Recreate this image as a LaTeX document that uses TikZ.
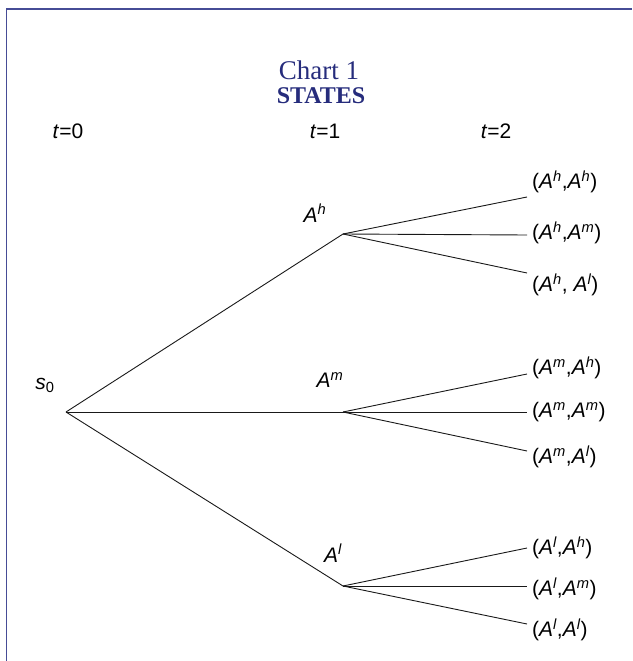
\documentclass[tikz,border=0pt]{standalone}
\usepackage{fontspec}
\setmainfont{Liberation Serif}
\newfontfamily\labfont{Liberation Sans}
\definecolor{navy}{RGB}{38,44,124}
\definecolor{framecol}{RGB}{70,76,150}
\newcommand{\Sp}[1]{\textsuperscript{\itshape #1}}
\tikzset{
  lab/.style={font=\labfont\fontsize{21}{25}\selectfont, inner sep=1pt},
  leaf/.style={lab, anchor=west},
  edge/.style={line width=0.9pt, black!90},
  ttl/.style={text=navy, inner sep=0pt, anchor=base}
}
\begin{document}
\begin{tikzpicture}[x=1pt,y=-1pt]
\useasboundingbox (0,0) rectangle (632,661);
\draw[framecol, line width=1.5pt] (6.5,661) -- (6.5,9) -- (632,9);
\node[ttl, font=\fontsize{27}{30}\selectfont] (title) at (319,79) {Chart 1};
\node[ttl, font=\fontsize{24}{28}\selectfont\bfseries] (sub) at (321,103) {STATES};
\node[lab] (t0) at (68,131) {\textit{t}=0};
\node[lab] (t1) at (325,131) {\textit{t}=1};
\node[lab] (t2) at (496,131) {\textit{t}=2};
\node[lab] (s0) at (45,385) {\textit{s}\textsubscript{0}};
\coordinate (root) at (66,412);
\coordinate (h) at (343,234);
\coordinate (m) at (343,412);
\coordinate (l) at (343,586);
\node[lab] (Ah) at (315,213) {\textit{A}\Sp{h}};
\node[lab] (Am) at (330,380) {\textit{A}\Sp{m}};
\node[lab] (Al) at (333,553) {\textit{A}\Sp{l}};
\coordinate (hh) at (527,197);
\coordinate (hm) at (527,235);
\coordinate (hl) at (527,273);
\coordinate (mh) at (527,374);
\coordinate (mm) at (527,412);
\coordinate (ml) at (527,451);
\coordinate (lh) at (527,548);
\coordinate (lm) at (527,586);
\coordinate (ll) at (527,624);
\draw[edge] (root) -- (h);
\draw[edge] (root) -- (m);
\draw[edge] (root) -- (l);
\foreach \p in {h,m,l}{
  \draw[edge] (\p) -- (\p h);
  \draw[edge] (\p) -- (\p m);
  \draw[edge] (\p) -- (\p l);
}
\node[leaf] (Lhh) at (531,182) {(\textit{A}\Sp{h},\textit{A}\Sp{h})};
\node[leaf] (Lhm) at (531,233) {(\textit{A}\Sp{h},\textit{A}\Sp{m})};
\node[leaf] (Lhl) at (531,285) {(\textit{A}\Sp{h}, \textit{A}\Sp{l})};
\node[leaf] (Lmh) at (531,368) {(\textit{A}\Sp{m},\textit{A}\Sp{h})};
\node[leaf] (Lmm) at (531,412) {(\textit{A}\Sp{m},\textit{A}\Sp{m})};
\node[leaf] (Lml) at (531,457) {(\textit{A}\Sp{m},\textit{A}\Sp{l})};
\node[leaf] (Llh) at (531,548) {(\textit{A}\Sp{l},\textit{A}\Sp{h})};
\node[leaf] (Llm) at (531,589) {(\textit{A}\Sp{l},\textit{A}\Sp{m})};
\node[leaf] (Lll) at (531,630) {(\textit{A}\Sp{l},\textit{A}\Sp{l})};
\end{tikzpicture}
\end{document}
